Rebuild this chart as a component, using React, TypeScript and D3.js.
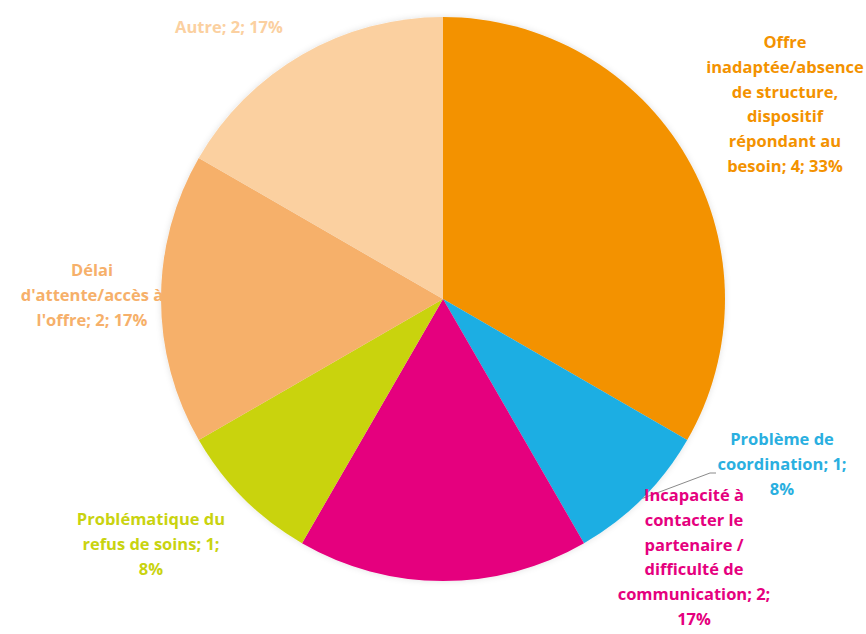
import React from "react";
import * as d3 from "d3";

const categories = [
  "Offre inadaptée/absence de structure, dispositif répondant au besoin",
  "Problème de coordination",
  "Incapacité à contacter le partenaire / difficulté de communication",
  "Problématique du refus de soins",
  "Délai d'attente/accès à l'offre",
  "Autre",
];
const values = [4, 1, 2, 1, 2, 2];
const percents = ["33%", "8%", "17%", "8%", "17%", "17%"];
const colors = ["#F39200", "#1DAEE3", "#E5007E", "#C9D30F", "#F6B06A", "#FBD0A0"];
const labelLines = [
  ["Offre", "inadaptée/absence", "de structure,", "dispositif", "répondant au", "besoin; 4; 33%"],
  ["Problème de", "coordination; 1;", "8%"],
  ["Incapacité à", "contacter le", "partenaire /", "difficulté de", "communication; 2;", "17%"],
  ["Problématique du", "refus de soins; 1;", "8%"],
  ["Délai", "d'attente/accès à", "l'offre; 2; 17%"],
  ["Autre; 2; 17%"],
];
const labelPos: [number, number][] = [
  [785, 44],
  [782, 441],
  [694, 497],
  [151, 521],
  [92, 272],
  [229, 29],
];
const labelColors = ["#F39200", "#2AAFE0", "#E5007E", "#C9D30F", "#F6B06A", "#FBD0A0"];

export default function App() {
  const W = 866, H = 634;
  const cx = 443, cy = 299, r = 282;
  const pie = d3.pie<number>().sort(null).value((d) => d);
  const arcs = pie(values);
  const arc = d3.arc<d3.PieArcDatum<number>>().innerRadius(0).outerRadius(r);
  const lineH = 24.8;
  const blue = arcs[1];
  const mid = (blue.startAngle + blue.endAngle) / 2;
  const p0: [number, number] = [cx + r * Math.sin(mid), cy - r * Math.cos(mid)];
  return (
    <svg width={W} height={H} style={{ position: "absolute", left: 0, top: 0, background: "#fff" }}>
      <defs>
        <filter id="sh" x="-10%" y="-10%" width="120%" height="120%">
          <feDropShadow dx="0" dy="0" stdDeviation="3" floodColor="#000" floodOpacity="0.12" />
        </filter>
      </defs>
      <g transform={`translate(${cx},${cy})`} filter="url(#sh)">
        {arcs.map((a, i) => (
          <path key={i} d={arc(a) || ""} fill={colors[i]} />
        ))}
      </g>
      <polyline
        points={`${p0[0]},${p0[1]} ${710},${473} ${716},${473}`}
        fill="none"
        stroke="#8a8a8a"
        strokeWidth={1}
      />
      {labelLines.map((lines, i) => (
        <text
          key={i}
          x={labelPos[i][0]}
          y={labelPos[i][1]}
          textAnchor="middle"
          dominantBaseline="middle"
          fill={labelColors[i]}
          fontFamily="'Open Sans', Lato, sans-serif"
          fontWeight={700}
          fontSize={16.5}
        >
          {lines.map((l, j) => (
            <tspan key={j} x={labelPos[i][0]} y={labelPos[i][1] + j * lineH}>
              {l}
            </tspan>
          ))}
        </text>
      ))}
    </svg>
  );
}
